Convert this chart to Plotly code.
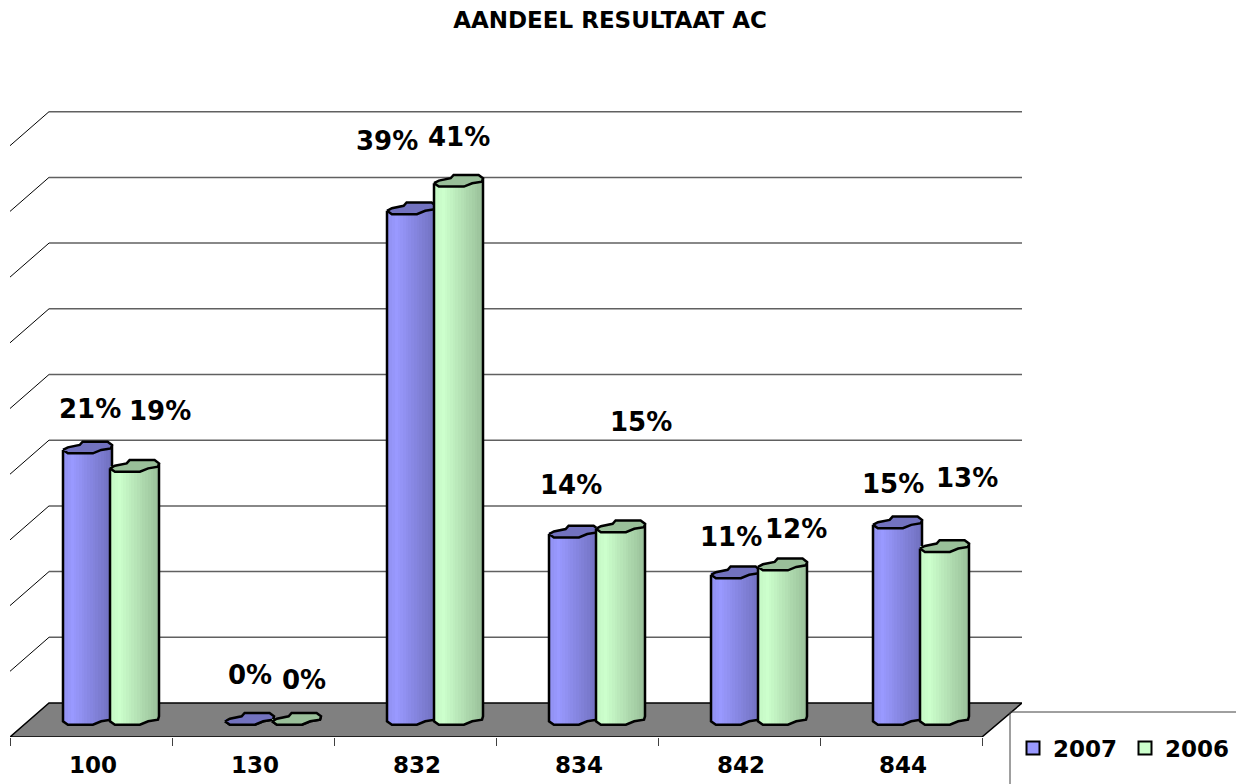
import plotly.graph_objects as go

# ---- data ----
CATEGORIES = ["100", "130", "832", "834", "842", "844"]
VALUES_2007 = [20.65, 0.0, 38.85, 14.25, 11.15, 14.95]
VALUES_2006 = [19.25, 0.0, 40.95, 14.65, 11.75, 13.15]
LABELS_2007 = ["21%", "0%", "39%", "14%", "11%", "15%"]
LABELS_2006 = ["19%", "0%", "41%", "15%", "12%", "13%"]
GRID_LEVELS = [0, 5, 10, 15, 20, 25, 30, 35, 40, 45]

# ---- layout constants (pixels) ----
W, H = 1236, 784
PLOT_L, PLOT_R, PLOT_T, PLOT_B = 10, 1022, 100, 737
GROUP_PX, VALUE_PX, ZERO_Y = 162.0, 13.14, 719
DEPTH_X, BACK_Y = 39, 703
BAR_W = 49.0
OFFSET = {"2007": 53, "2006": 100}
STRIPS = 18
LABEL_SHIFT_2007 = [(3, 39), (1, 44), (-24, 68), (-2, 47), (-4, 35), (-4, 39)]
LABEL_SHIFT_2006 = [(26, 55), (8, 39), (1, 44), (21, 105), (14, 36), (23, 68)]
CAP = [(0, -2.3), (.10, .3), (.34, 2.7), (.40, 6), (.91, 6), (1, 2.7), (.98, -.7),
       (.78, -2.3), (.61, -5.7), (.10, -5.7), (0, -2.3)]
BOTTOM = [(0, -2.3), (.10, -5.7), (.61, -5.7), (.78, -2.3), (.98, -.7), (1, 2.7)]
FONT = "DejaVu Sans"


def dx(px):
    return px / GROUP_PX


def dy(px):
    return px / VALUE_PX


def mix(a, b, t):
    return tuple(round(p + (q - p) * t) for p, q in zip(a, b))


def ramp(stops, t):
    for (t0, c0), (t1, c1) in zip(stops, stops[1:]):
        if t <= t1:
            c = mix(c0, c1, (t - t0) / (t1 - t0))
            return f"rgb({c[0]},{c[1]},{c[2]})"
    return "black"


def bottom_at(t):
    for (t0, y0), (t1, y1) in zip(BOTTOM, BOTTOM[1:]):
        if t <= t1:
            return y0 + (y1 - y0) * (t - t0) / (t1 - t0)
    return BOTTOM[-1][1]


def bar_traces(name, values, stops, cap_color, xa, ya):
    xs, bases, ys, cols = [], [], [], []
    ox, oy, cx, cy = [], [], [], []
    for g, v in enumerate(values):
        x0 = g + dx(OFFSET[name])
        for s in range(STRIPS):
            t = (s + .5) / STRIPS
            b = dy(bottom_at(t))
            xs.append(x0 + dx(BAR_W) * t)
            bases.append(b)
            ys.append(v - b)
            cols.append(ramp(stops, t))
        # silhouette
        ox += [x0, x0] + [x0 + dx(BAR_W) * u for u, _ in BOTTOM[1:]] + [x0 + dx(BAR_W), None]
        oy += [v + dy(-2.3), dy(-2.3)] + [dy(p) for _, p in BOTTOM[1:]] + [v + dy(2.7), None]
        # cap
        cx += [x0 + dx(BAR_W) * u for u, _ in CAP] + [None]
        cy += [v + dy(p) for _, p in CAP] + [None]
    return [
        go.Bar(x=xs, y=ys, base=bases, width=dx(BAR_W / STRIPS + .6), marker=dict(color=cols, line=dict(width=0)),
               showlegend=False, hoverinfo="skip", xaxis=xa, yaxis=ya),
        go.Scatter(x=ox, y=oy, mode="lines", line=dict(color="black", width=2.5), showlegend=False,
                   hoverinfo="skip", xaxis=xa, yaxis=ya),
        go.Scatter(x=cx, y=cy, mode="lines", fill="toself", fillcolor=cap_color, line=dict(color="black", width=2.5),
                   showlegend=False, hoverinfo="skip", xaxis=xa, yaxis=ya),
    ]


BLUE = [(0, (142, 142, 238)), (.2, (153, 153, 255)), (1, (112, 112, 190))]
GREEN = [(0, (196, 246, 196)), (.2, (204, 255, 204)), (1, (153, 191, 153))]

fig = go.Figure()
for tr in bar_traces("2007", VALUES_2007, BLUE, "#7272BF", "x", "y"):
    fig.add_trace(tr)
for tr in bar_traces("2006", VALUES_2006, GREEN, "#99BF99", "x2", "y2"):
    fig.add_trace(tr)

# legend entries
fig.add_trace(go.Scatter(x=[None], y=[None], name="2007", mode="markers", xaxis="x", yaxis="y",
                         marker=dict(symbol="square", size=13, color="#9999FF", line=dict(color="black", width=2))))
fig.add_trace(go.Scatter(x=[None], y=[None], name="2006", mode="markers", xaxis="x", yaxis="y",
                         marker=dict(symbol="square", size=13, color="#CCFFCC", line=dict(color="black", width=2))))

# wall and floor
xmax = (PLOT_R - PLOT_L) / GROUP_PX
back = dy(ZERO_Y - BACK_Y)
front = dy(ZERO_Y - PLOT_B)
shapes = [dict(type="path", xref="x", yref="y", layer="below", fillcolor="#808080",
               line=dict(color="black", width=1.5),
               path=f"M 0 {front} L {dx(DEPTH_X)} {back} L {xmax} {back} L {len(CATEGORIES)} {front} Z")]
for lv in GRID_LEVELS[1:]:
    y = back + lv
    shapes.append(dict(type="line", xref="x", yref="y", layer="below", x0=dx(DEPTH_X), x1=xmax, y0=y, y1=y,
                       line=dict(color="#606060", width=1.5)))
    shapes.append(dict(type="line", xref="x", yref="y", layer="below", x0=0, x1=dx(DEPTH_X), y0=y + front - back, y1=y,
                       line=dict(color="black", width=1)))
# legend frame
fx = lambda px: (px - PLOT_L) / (PLOT_R - PLOT_L)
fy = lambda px: (PLOT_B - px) / (PLOT_B - PLOT_T)
shapes.append(dict(type="line", xref="paper", yref="paper", x0=fx(1010), x1=fx(1236), y0=fy(712), y1=fy(712),
                   line=dict(color="#404040", width=1)))
shapes.append(dict(type="line", xref="paper", yref="paper", x0=fx(1010), x1=fx(1010), y0=fy(712), y1=fy(784),
                   line=dict(color="#404040", width=1)))

# value labels
annotations = []
for name, vals, labels, shifts, xa, ya in [
    ("2007", VALUES_2007, LABELS_2007, LABEL_SHIFT_2007, "x", "y"),
    ("2006", VALUES_2006, LABELS_2006, LABEL_SHIFT_2006, "x2", "y2"),
]:
    for g, (v, t, (sx, sy)) in enumerate(zip(vals, labels, shifts)):
        annotations.append(dict(x=g + dx(OFFSET[name] + 24), y=v, xref=xa, yref=ya, text=f"<b>{t}</b>", showarrow=False,
                                xshift=sx, yshift=sy, font=dict(family=FONT, size=26, color="black")))

ymax = dy(ZERO_Y - PLOT_T)
yrange = [front, ymax]
fig.update_layout(
    width=W, height=H, paper_bgcolor="white", plot_bgcolor="white",
    margin=dict(l=PLOT_L, r=W - PLOT_R, t=PLOT_T, b=H - PLOT_B, autoexpand=False),
    barmode="overlay", bargap=0, shapes=shapes, annotations=annotations,
    title=dict(text="<b>AANDEEL RESULTAAT AC</b>", x=610 / W, xanchor="center", xref="container",
               y=1 - 20 / H, yanchor="middle", yref="container", font=dict(family=FONT, size=23, color="black")),
    legend=dict(orientation="h", x=fx(1013), xanchor="left", y=fy(748), yanchor="middle", yref="paper",
                font=dict(family=FONT, size=23, color="black", weight=700), bgcolor="rgba(0,0,0,0)",
                itemwidth=30, entrywidth=67, entrywidthmode="pixels", traceorder="normal"),
    xaxis=dict(range=[0, xmax], showgrid=False, zeroline=False, showline=False, tickmode="array",
               tickvals=[i + .5 + dx(2) for i in range(len(CATEGORIES))], ticktext=CATEGORIES, ticks="",
               ticklabelstandoff=12, tickfont=dict(family=FONT, size=23, color="black", weight=700),
               minor=dict(tickmode="array", tickvals=list(range(len(CATEGORIES) + 1)), ticks="outside", ticklen=8,
                          tickwidth=1, tickcolor="#404040", showgrid=False)),
    yaxis=dict(range=yrange, showgrid=False, zeroline=False, showline=False, showticklabels=False, ticks=""),
    xaxis2=dict(range=[0, xmax], overlaying="x", anchor="y2", visible=False),
    yaxis2=dict(range=yrange, overlaying="y", anchor="x2", visible=False),
)
fig.write_html("out.html", config=dict(displayModeBar=False), post_script="document.body.style.margin='0';")
